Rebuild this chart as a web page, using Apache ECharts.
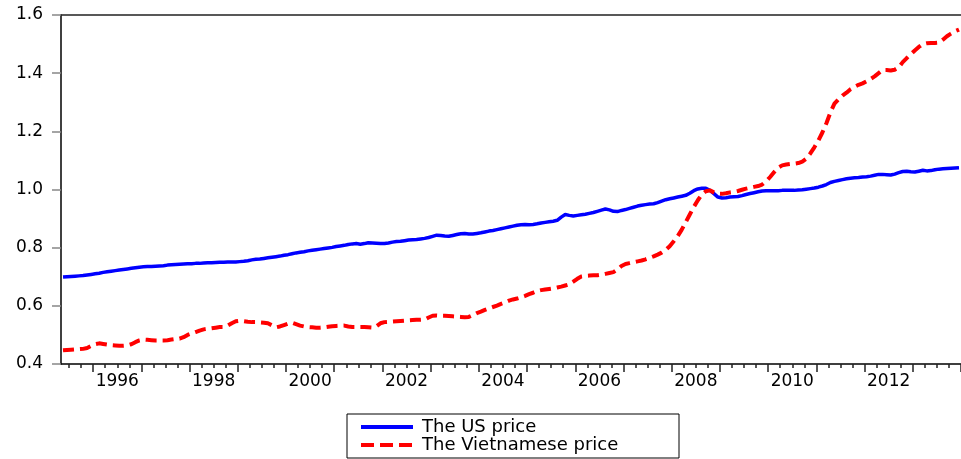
<!DOCTYPE html>
<html>
<head>
<meta charset="utf-8">
<script src="https://cdn.jsdelivr.net/npm/echarts@6/dist/echarts.min.js"></script>
<style>
html,body{margin:0;padding:0;background:#fff;}
#chart{width:961px;height:459px;}
</style>
</head>
<body>
<div id="chart"></div>
<script>
// Monthly observations, 1995-05 .. 2013-12
const startYear = 1995;
const startMonth = 5;

const usPrice = [
  0.699, 0.700, 0.701, 0.702, 0.703, 0.704, 0.706, 0.708,                      // 1995 May-Dec
  0.710, 0.712, 0.715, 0.717, 0.719, 0.721, 0.723, 0.725, 0.727, 0.729, 0.731, 0.733, // 1996
  0.734, 0.735, 0.735, 0.736, 0.737, 0.738, 0.740, 0.741, 0.742, 0.743, 0.744, 0.745, // 1997
  0.745, 0.746, 0.746, 0.747, 0.748, 0.748, 0.749, 0.750, 0.750, 0.751, 0.751, 0.751, // 1998
  0.752, 0.753, 0.755, 0.758, 0.760, 0.761, 0.763, 0.765, 0.767, 0.769, 0.771, 0.774, // 1999
  0.776, 0.779, 0.782, 0.784, 0.786, 0.789, 0.791, 0.793, 0.795, 0.797, 0.799, 0.801, // 2000
  0.804, 0.806, 0.808, 0.811, 0.813, 0.814, 0.812, 0.814, 0.817, 0.816, 0.815, 0.814, // 2001
  0.814, 0.816, 0.819, 0.821, 0.822, 0.824, 0.826, 0.827, 0.828, 0.830, 0.832, 0.835, // 2002
  0.839, 0.843, 0.842, 0.840, 0.839, 0.842, 0.845, 0.848, 0.849, 0.847, 0.847, 0.849, // 2003
  0.851, 0.854, 0.857, 0.859, 0.862, 0.865, 0.868, 0.871, 0.874, 0.877, 0.879, 0.880, // 2004
  0.879, 0.880, 0.882, 0.885, 0.887, 0.889, 0.891, 0.894, 0.905, 0.914, 0.911, 0.909, // 2005
  0.911, 0.913, 0.915, 0.918, 0.921, 0.925, 0.929, 0.933, 0.930, 0.925, 0.924, 0.928, // 2006
  0.931, 0.935, 0.939, 0.943, 0.946, 0.948, 0.950, 0.951, 0.955, 0.960, 0.965, 0.968, // 2007
  0.971, 0.974, 0.977, 0.980, 0.987, 0.996, 1.002, 1.004, 1.004, 0.997, 0.986, 0.974, // 2008
  0.971, 0.972, 0.974, 0.975, 0.976, 0.979, 0.983, 0.986, 0.989, 0.992, 0.995, 0.996, // 2009
  0.996, 0.996, 0.996, 0.997, 0.997, 0.997, 0.997, 0.998, 0.999, 1.001, 1.003, 1.005, // 2010
  1.008, 1.012, 1.017, 1.024, 1.028, 1.031, 1.034, 1.037, 1.039, 1.040, 1.041, 1.043, // 2011
  1.044, 1.046, 1.049, 1.052, 1.052, 1.051, 1.050, 1.053, 1.058, 1.062, 1.063, 1.061, // 2012
  1.060, 1.063, 1.066, 1.064, 1.065, 1.068, 1.070, 1.071, 1.072, 1.073, 1.074, 1.075  // 2013
];

const vnPrice = [
  0.447, 0.448, 0.449, 0.450, 0.451, 0.452, 0.455, 0.462,                      // 1995 May-Dec
  0.468, 0.471, 0.469, 0.467, 0.465, 0.464, 0.463, 0.463, 0.464, 0.468, 0.475, 0.481, // 1996
  0.484, 0.483, 0.482, 0.481, 0.481, 0.481, 0.482, 0.484, 0.486, 0.487, 0.492, 0.500, // 1997
  0.505, 0.510, 0.515, 0.519, 0.521, 0.523, 0.525, 0.527, 0.527, 0.532, 0.540, 0.547, // 1998
  0.549, 0.547, 0.545, 0.544, 0.544, 0.543, 0.542, 0.540, 0.533, 0.526, 0.529, 0.534, // 1999
  0.539, 0.542, 0.537, 0.532, 0.529, 0.527, 0.526, 0.525, 0.525, 0.526, 0.528, 0.530, // 2000
  0.531, 0.532, 0.532, 0.529, 0.527, 0.527, 0.527, 0.527, 0.526, 0.525, 0.530, 0.540, // 2001
  0.544, 0.545, 0.546, 0.547, 0.548, 0.549, 0.550, 0.551, 0.552, 0.552, 0.553, 0.560, // 2002
  0.566, 0.567, 0.566, 0.566, 0.565, 0.564, 0.563, 0.562, 0.561, 0.562, 0.568, 0.575, // 2003
  0.580, 0.586, 0.591, 0.596, 0.601, 0.607, 0.612, 0.618, 0.622, 0.625, 0.629, 0.634, // 2004
  0.640, 0.645, 0.651, 0.654, 0.656, 0.658, 0.660, 0.663, 0.666, 0.670, 0.674, 0.683, // 2005
  0.693, 0.701, 0.703, 0.704, 0.705, 0.705, 0.707, 0.710, 0.713, 0.716, 0.725, 0.737, // 2006
  0.744, 0.747, 0.750, 0.753, 0.756, 0.760, 0.765, 0.770, 0.776, 0.783, 0.792, 0.805, // 2007
  0.822, 0.840, 0.862, 0.888, 0.914, 0.940, 0.963, 0.983, 0.994, 0.997, 0.990, 0.985, // 2008
  0.985, 0.987, 0.990, 0.992, 0.995, 0.999, 1.003, 1.006, 1.009, 1.012, 1.017, 1.028, // 2009
  1.043, 1.060, 1.075, 1.083, 1.086, 1.088, 1.089, 1.091, 1.096, 1.106, 1.124, 1.145, // 2010
  1.168, 1.196, 1.228, 1.265, 1.295, 1.310, 1.323, 1.333, 1.345, 1.353, 1.360, 1.365, // 2011
  1.372, 1.380, 1.389, 1.400, 1.411, 1.411, 1.409, 1.412, 1.420, 1.438, 1.452, 1.465, // 2012
  1.478, 1.490, 1.500, 1.503, 1.504, 1.504, 1.505, 1.515, 1.527, 1.536, 1.544, 1.550  // 2013
];

const yearLabels = ['1996', '1998', '2000', '2002', '2004', '2006', '2008', '2010', '2012'];
const seriesNames = ['The US price', 'The Vietnamese price'];

// category list: one entry per month
const months = [];
for (let i = 0; i < usPrice.length; i++) {
  const t = startMonth - 1 + i;
  const y = startYear + Math.floor(t / 12);
  const m = (t % 12) + 1;
  months.push(y + '-' + (m < 10 ? '0' + m : '' + m));
}
const monthOf = v => parseInt(v.slice(5, 7), 10);

const chart = echarts.init(document.getElementById('chart'), null, { renderer: 'canvas' });
const FONT = 'DejaVu Sans';

chart.setOption({
  animation: false,
  backgroundColor: '#ffffff',
  grid: {
    left: 61, right: 0, top: 15, bottom: 95,
    outerBoundsMode: 'none',
    containLabel: false
  },
  legend: {
    orient: 'vertical',
    left: 347, top: 414,
    padding: [4, 15, 4, 12],
    itemGap: 0,
    itemWidth: 52,
    itemHeight: 14,
    borderColor: '#000000',
    borderWidth: 1,
    borderRadius: 0,
    backgroundColor: '#ffffff',
    data: [
      { name: seriesNames[0], lineStyle: { width: 4 } },
      { name: seriesNames[1], lineStyle: { width: 4, type: [13, 6] } }
    ],
    itemStyle: { opacity: 0 },
    textStyle: {
      fontFamily: FONT, fontSize: 18, color: '#000000',
      lineHeight: 18, width: 242, padding: [0, 0, 0, 4]
    }
  },
  xAxis: [
    {
      type: 'category', data: months, position: 'bottom', boundaryGap: true,
      axisLine: { show: true, onZero: false, lineStyle: { color: '#000000', width: 1.5 } },
      axisTick: {
        show: true, inside: false, length: 4,
        interval: (idx, v) => [1, 4, 7, 10].includes(monthOf(v)),
        lineStyle: { color: '#222222', width: 1.5 }
      },
      axisLabel: {
        show: true, margin: 9,
        interval: (idx, v) => monthOf(v) === 7 && yearLabels.includes(v.slice(0, 4)),
        formatter: v => v.slice(0, 4),
        fontFamily: FONT, fontSize: 17, color: '#000000',
        padding: [0, 4, 0, 0]
      },
      splitLine: { show: false }
    },
    {
      type: 'category', data: months, position: 'bottom', boundaryGap: true,
      axisLine: { show: false, onZero: false },
      axisTick: {
        show: true, inside: false, length: 8,
        interval: (idx, v) => monthOf(v) === 1,
        lineStyle: { color: '#222222', width: 1.5 }
      },
      axisLabel: { show: false },
      splitLine: { show: false }
    },
    {
      type: 'category', data: months, position: 'top', boundaryGap: true,
      axisLine: { show: true, onZero: false, lineStyle: { color: '#222222', width: 1.5 } },
      axisTick: { show: false },
      axisLabel: { show: false },
      splitLine: { show: false }
    }
  ],
  yAxis: {
    type: 'value', min: 0.4, max: 1.6, interval: 0.2,
    axisLine: { show: true, lineStyle: { color: '#000000', width: 1.5 } },
    axisTick: { show: true, inside: false, length: 9, lineStyle: { color: '#888888', width: 1.5 } },
    axisLabel: {
      margin: 18, fontFamily: FONT, fontSize: 17, color: '#000000',
      formatter: v => v.toFixed(1)
    },
    splitLine: { show: false }
  },
  series: [
    {
      name: seriesNames[0], type: 'line', data: usPrice, xAxisIndex: 0,
      showSymbol: false, symbol: 'none', smooth: false,
      lineStyle: { color: '#0000ff', width: 3.5 },
      itemStyle: { color: '#0000ff' }
    },
    {
      name: seriesNames[1], type: 'line', data: vnPrice, xAxisIndex: 0,
      showSymbol: false, symbol: 'none', smooth: false,
      lineStyle: { color: '#ff0000', width: 4, type: [11, 6] },
      itemStyle: { color: '#ff0000' }
    }
  ]
});
</script>
</body>
</html>
